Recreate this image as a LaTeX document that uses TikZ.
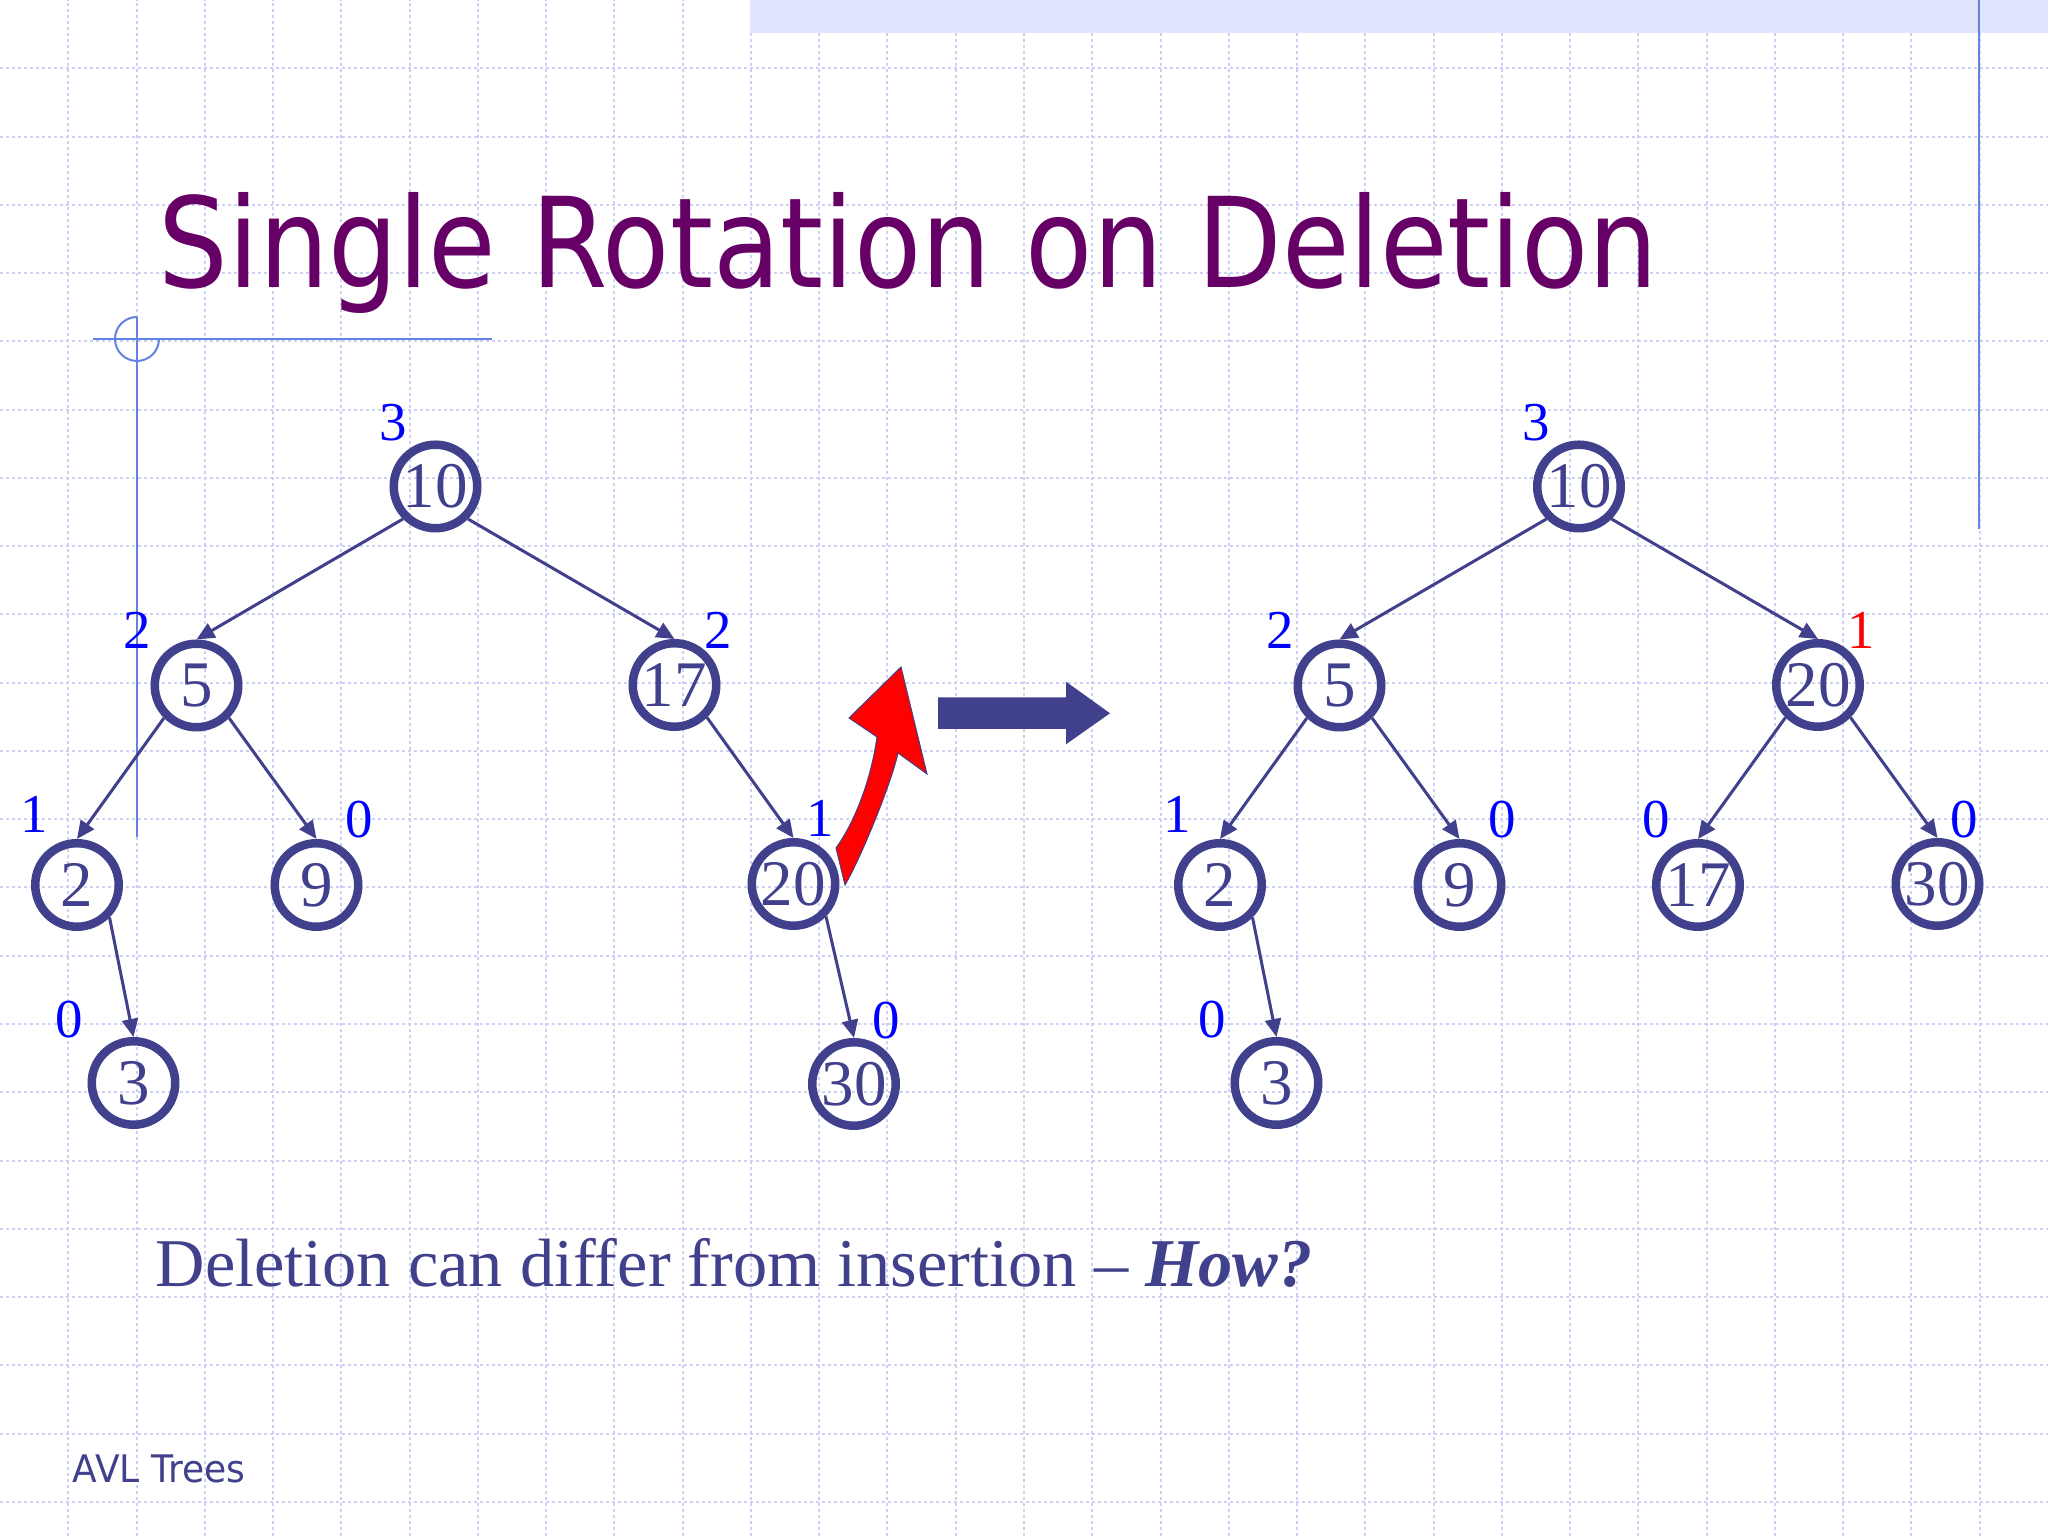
\documentclass[tikz,border=0pt]{standalone}
\usepackage{fontspec}
\setmainfont{Liberation Serif}
\newfontfamily\slidefont[FakeStretch=0.878]{DejaVu Sans}
\newfontfamily\footfont[FakeStretch=0.95]{DejaVu Sans}
\usetikzlibrary{arrows.meta}
\definecolor{avlblue}{RGB}{64,64,140}
\definecolor{titlepurple}{RGB}{102,0,102}
\definecolor{gridblue}{RGB}{204,208,244}
\definecolor{ruleblue}{RGB}{100,130,225}
\definecolor{bannerblue}{RGB}{222,229,252}
\begin{document}
\begin{tikzpicture}[
    avl/.style={circle, draw=avlblue, line width=0.085cm, minimum size=0.835cm,
      inner sep=0pt, text=avlblue, font=\fontsize{18.5}{18.5}\selectfont},
    bal/.style={text=blue, inner sep=0pt, font=\fontsize{15.6}{15.6}\selectfont},
    edge/.style={draw=avlblue, line width=0.03cm,
      -{Triangle[length=0.18cm,width=0.16cm]}},
    gridline/.style={gridblue, line width=0.02cm, dash pattern=on 0.03cm off 0.03cm}
  ]
                \useasboundingbox (0,0) rectangle (20.48,15.36);
                \fill[white] (0,0) rectangle (20.48,15.36);
                % slide background
                \foreach \i in {1,...,29}
                  \draw[gridline] (\i*0.68267,0) -- (\i*0.68267,15.36);
                \foreach \j in {1,...,22}
                  \draw[gridline] (0,15.36-\j*0.68267) -- (20.48,15.36-\j*0.68267);
                \fill[bannerblue] (7.50,15.03) rectangle (20.48,15.36);
                \draw[ruleblue, line width=0.02cm] (19.79,15.36) -- (19.79,10.07);
                \draw[ruleblue, line width=0.02cm] (0.93,11.97) -- (4.92,11.97);
                \draw[ruleblue, line width=0.02cm] (1.37,12.19) -- (1.37,6.99);
                \draw[ruleblue, line width=0.02cm] (1.37,12.19) arc (90:360:0.22);
                \node[anchor=base west, inner sep=0pt, text=titlepurple,
                  font=\slidefont\fontsize{35.6}{35.6}\selectfont] (title) at (1.58,12.48) {Single Rotation on Deletion};

                % before
                \node[avl] (a10) at (4.355,10.495) {10};
                \node[avl] (a5) at (1.965,8.505) {5};
                \node[avl] (a17) at (6.745,8.51) {17};
                \node[avl] (a2) at (0.77,6.51) {2};
                \node[avl] (a9) at (3.165,6.51) {9};
                \node[avl] (a20) at (7.935,6.52) {20};
                \node[avl] (a3) at (1.335,4.53) {3};
                \node[avl] (a30) at (8.54,4.52) {30};
                \node[bal] (ha10) at (3.93,11.13) {3};
                \node[bal] (ha5) at (1.37,9.06) {2};
                \node[bal] (ha17) at (7.18,9.06) {2};
                \node[bal] (ha2) at (0.34,7.22) {1};
                \node[bal] (ha9) at (3.59,7.16) {0};
                \node[bal] (ha20) at (8.20,7.18) {1};
                \node[bal] (ha3) at (0.69,5.16) {0};
                \node[bal] (ha30) at (8.86,5.15) {0};
                \draw[edge] (a10.south west) -- (a5.north);
                \draw[edge] (a10.south east) -- (a17.north);
                \draw[edge] (a5.south west) -- (a2.north);
                \draw[edge] (a5.south east) -- (a9.north);
                \draw[edge] (a2.south east) -- (a3.north);
                \draw[edge] (a17.south east) -- (a20.north);
                \draw[edge] (a20.south east) -- (a30.north);

                % rotation
                \filldraw[fill=red, draw=avlblue, line width=0.01cm] (8.36,6.88)
                  .. controls (8.52,7.10) and (8.70,7.50) .. (8.77,7.99)
                  -- (8.49,8.18) -- (9.01,8.69) -- (9.27,7.62) -- (8.98,7.83)
                  .. controls (8.92,7.55) and (8.62,6.80) .. (8.45,6.51) -- cycle;
                \fill[avlblue] (9.38,8.387) -- (10.66,8.387) -- (10.66,8.543) -- (11.10,8.227)
                  -- (10.66,7.917) -- (10.66,8.07) -- (9.38,8.07) -- cycle;

                % after
                \node[avl] (b10) at (15.79,10.495) {10};
                \node[avl] (b5) at (13.395,8.505) {5};
                \node[avl] (b20) at (18.18,8.51) {20};
                \node[avl] (b2) at (12.20,6.51) {2};
                \node[avl] (b9) at (14.595,6.51) {9};
                \node[avl] (b17) at (16.98,6.51) {17};
                \node[avl] (b30) at (19.375,6.52) {30};
                \node[avl] (b3) at (12.765,4.53) {3};
                \node[bal] (hb10) at (15.36,11.13) {3};
                \node[bal] (hb5) at (12.80,9.06) {2};
                \node[bal, text=red] (hb20) at (18.61,9.06) {1};
                \node[bal] (hb2) at (11.77,7.22) {1};
                \node[bal] (hb9) at (15.02,7.16) {0};
                \node[bal] (hb17) at (16.56,7.16) {0};
                \node[bal] (hb30) at (19.64,7.16) {0};
                \node[bal] (hb3) at (12.12,5.16) {0};
                \draw[edge] (b10.south west) -- (b5.north);
                \draw[edge] (b10.south east) -- (b20.north);
                \draw[edge] (b5.south west) -- (b2.north);
                \draw[edge] (b5.south east) -- (b9.north);
                \draw[edge] (b2.south east) -- (b3.north);
                \draw[edge] (b20.south west) -- (b17.north);
                \draw[edge] (b20.south east) -- (b30.north);

                \node[anchor=base west, inner sep=0pt, text=avlblue,
                  font=\fontsize{19.45}{19.45}\selectfont] (question) at (1.55,2.49)
                  {Deletion can differ from insertion -- \textit{\textbf{How?}}};
                \node[anchor=base west, inner sep=0pt, text=avlblue,
                  font=\footfont\fontsize{10.8}{10.8}\selectfont] (footer) at (0.72,0.53) {AVL Trees};
            \end{tikzpicture}
\end{document}
